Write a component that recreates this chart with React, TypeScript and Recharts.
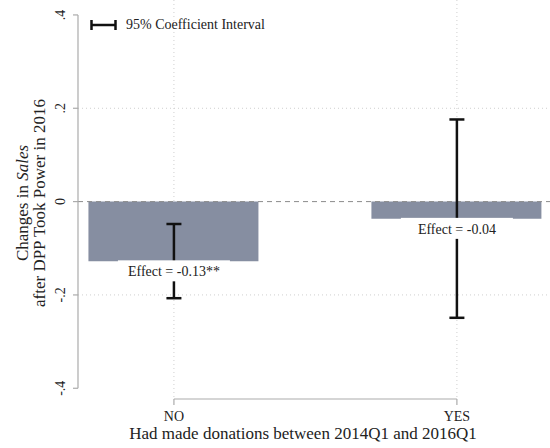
import React from "react";
import {
  ComposedChart,
  Bar,
  Scatter,
  XAxis,
  YAxis,
  CartesianGrid,
  ReferenceLine,
  LabelList,
} from "recharts";

// data
const categories = ["NO", "YES"];
const effects = [-0.128, -0.037];
const ciLow = [-0.207, -0.249];
const ciHigh = [-0.048, 0.176];
const stars = ["**", ""];
const yTicks = [-0.4, -0.2, 0, 0.2, 0.4];

const xDomain: [number, number] = [-0.339, 1.329];
const yDomain: [number, number] = [-0.423, 0.432];

const FONT = "'Liberation Serif', 'Times New Roman', serif";
const AXIS_GRAY = "#ababab";
const BAR_FILL = "#868ea1";

const data = categories.map((name, i) => ({
  x: i,
  name,
  effect: effects[i],
  label: `Effect = ${effects[i].toFixed(2)}${stars[i]}`,
}));

const fmtY = (v: number) => (v === 0 ? "0" : v.toFixed(1).replace("0.", "."));

const YTick = (props: any) => {
  const { x, y, payload } = props;
  return (
    <g>
      <line x1={x - 5} y1={y} x2={x} y2={y} stroke={AXIS_GRAY} strokeWidth={1.2} />
      <text
        x={x - 13}
        y={y}
        transform={`rotate(-90, ${x - 13}, ${y})`}
        textAnchor="middle"
        fontFamily={FONT}
        fontSize={14}
        fill="#222"
      >
        {fmtY(payload.value)}
      </text>
    </g>
  );
};

const XTick = (props: any) => {
  const { x, y, payload } = props;
  return (
    <g>
      <line x1={x} y1={y} x2={x} y2={y + 6} stroke={AXIS_GRAY} strokeWidth={1.2} />
      <text x={x} y={y + 22} textAnchor="middle" fontFamily={FONT} fontSize={14} fill="#222">
        {categories[payload.value]}
      </text>
    </g>
  );
};

const YTitle = () => (
  <text
    transform="rotate(-90, 28, 203)"
    x={28}
    y={203}
    textAnchor="middle"
    fontFamily={FONT}
    fontSize={17}
    fill="#222"
  >
    <tspan x={28} y={203}>
      Changes in <tspan fontStyle="italic">Sales</tspan>
    </tspan>
    <tspan x={28} y={220}>after DPP Took Power in 2016</tspan>
  </text>
);

const XTitle = () => (
  <text x={303} y={439} textAnchor="middle" fontFamily={FONT} fontSize={17} fill="#222">
    Had made donations between 2014Q1 and 2016Q1
  </text>
);

// 95% CI drawn as an I-beam between the two segment ends
const CiShape = (props: any) => {
  const { x1, y1, x2, y2 } = props;
  return (
    <g stroke="#111" strokeWidth={2.5}>
      <line x1={x1} y1={y1} x2={x2} y2={y2} />
      <line x1={x1 - 7.5} y1={y1} x2={x1 + 7.5} y2={y1} />
      <line x1={x2 - 7.5} y1={y2} x2={x2 + 7.5} y2={y2} />
    </g>
  );
};

// white box with the effect text just under the bar end
const EffectLabel = (props: any) => {
  const { x, y, width, height, value } = props;
  const cx = x + (width || 0) / 2;
  const cy = y + (height || 0) / 2;
  return (
    <g>
      <rect x={cx - 56} y={cy - 1} width={112} height={21} fill="#fff" />
      <text x={cx} y={cy + 15} textAnchor="middle" fontFamily={FONT} fontSize={14} fill="#222">
        {value}
      </text>
    </g>
  );
};

const NoDot = () => <g />;

const LegendBox = () => (
  <div
    style={{
      position: "absolute",
      left: 90,
      top: 17,
      display: "flex",
      alignItems: "center",
      fontFamily: FONT,
      fontSize: 14,
      color: "#222",
      lineHeight: "16px",
    }}
  >
    <svg width={28} height={12} style={{ marginRight: 8 }}>
      <line x1={1.5} y1={1} x2={1.5} y2={11} stroke="#111" strokeWidth={2.5} />
      <line x1={1.5} y1={6} x2={25.5} y2={6} stroke="#111" strokeWidth={2.5} />
      <line x1={25.5} y1={1} x2={25.5} y2={11} stroke="#111" strokeWidth={2.5} />
    </svg>
    <span>95% Coefficient Interval</span>
  </div>
);

export default function App() {
  return (
    <div style={{ position: "absolute", left: 0, top: 0, width: 550, height: 448, background: "#fff" }}>
      <ComposedChart width={550} height={448} data={data} margin={{ top: 0, right: 0, left: 0, bottom: 0 }}>
        <CartesianGrid
          stroke="#cfcfcf"
          strokeDasharray="1 3"
          horizontalValues={[-0.2, 0.2]}
          verticalValues={[0, 1]}
        />
        <XAxis
          dataKey="x"
          type="number"
          domain={xDomain}
          ticks={[0, 1]}
          allowDataOverflow
          axisLine={false}
          tickLine={false}
          tickSize={0}
          tickMargin={0}
          height={49}
          tick={<XTick />}
          label={<XTitle />}
        />
        <YAxis
          type="number"
          domain={yDomain}
          ticks={yTicks}
          allowDataOverflow
          axisLine={false}
          tickLine={false}
          tickSize={0}
          tickMargin={0}
          width={78}
          tick={<YTick />}
          label={<YTitle />}
        />
        <Bar dataKey="effect" fill={BAR_FILL} barSize={170} isAnimationActive={false} />
        <ReferenceLine y={0} stroke="#8c8c8c" strokeDasharray="5 4" />
        <ReferenceLine
          segment={[{ x: xDomain[0], y: yTicks[0] }, { x: xDomain[0], y: yTicks[yTicks.length - 1] }]}
          stroke={AXIS_GRAY}
          strokeWidth={1.2}
          ifOverflow="visible"
        />
        <ReferenceLine
          segment={[{ x: 0, y: yDomain[0] }, { x: categories.length - 1, y: yDomain[0] }]}
          stroke={AXIS_GRAY}
          strokeWidth={1.2}
          ifOverflow="visible"
        />
        {categories.map((c, i) => (
          <ReferenceLine
            key={c}
            segment={[{ x: i, y: ciLow[i] }, { x: i, y: ciHigh[i] }]}
            shape={<CiShape />}
            ifOverflow="visible"
          />
        ))}
        <Scatter dataKey="effect" shape={<NoDot />} isAnimationActive={false}>
          <LabelList dataKey="label" content={<EffectLabel />} />
        </Scatter>
      </ComposedChart>
      <LegendBox />
    </div>
  );
}
